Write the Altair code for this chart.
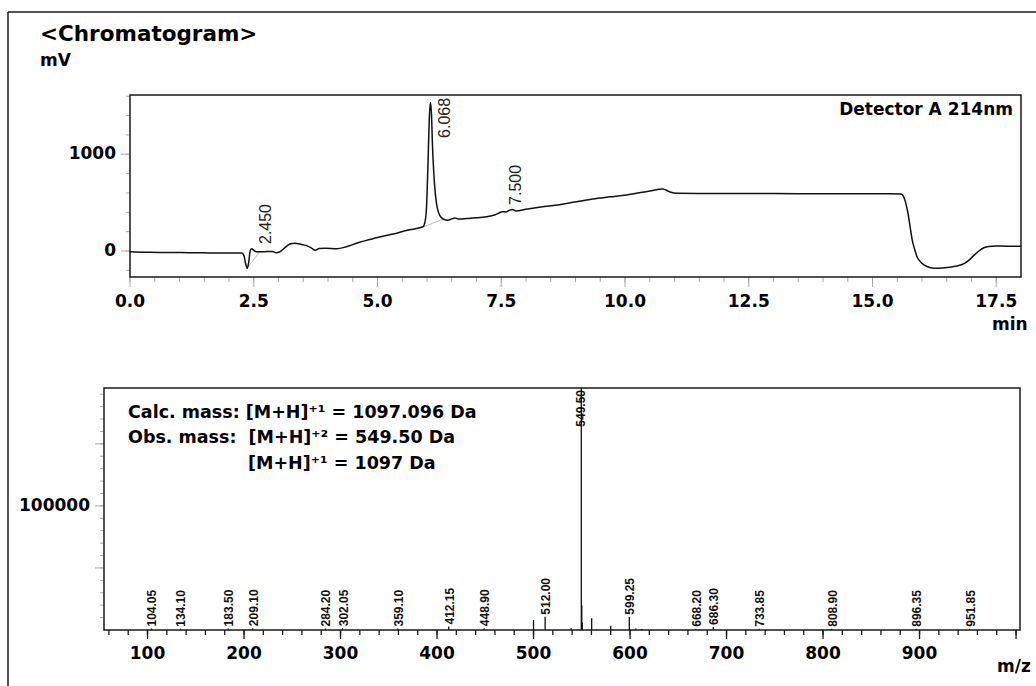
import altair as alt
import pandas as pd

# ---------------- data ----------------
time_min = [0.00, 0.40, 0.80, 1.20, 1.60, 2.00, 2.26, 2.30, 2.34, 2.37, 2.40, 2.43, 2.46, 2.50,
            2.55, 2.70, 2.88, 2.95, 3.03, 3.12, 3.23, 3.33, 3.45, 3.57, 3.66, 3.74, 3.82, 3.95,
            4.18, 4.64, 5.00, 5.31, 5.60, 5.92, 5.96, 5.99, 6.02, 6.045, 6.068, 6.09, 6.11, 6.14,
            6.17, 6.21, 6.26, 6.33, 6.42, 6.50, 6.56, 6.65, 6.80, 7.00, 7.20, 7.36, 7.45, 7.52,
            7.60, 7.67, 7.72, 7.80, 8.00, 8.30, 8.68, 9.00, 9.35, 9.70, 10.03, 10.50, 10.76,
            10.90, 11.04, 11.50, 12.50, 13.50, 14.50, 15.35, 15.58, 15.63, 15.67, 15.72, 15.76,
            15.80, 15.85, 15.90, 16.00, 16.10, 16.25, 16.40, 16.55, 16.70, 16.85, 16.95, 17.05,
            17.15, 17.25, 17.35, 17.50, 17.70, 18.00]
signal_mv = [-8, -14, -15, -18, -20, -22, -22, -45, -140, -180, -110, 5, 22, 8,
             -8, -7, -5, -18, -8, 30, 72, 79, 70, 55, 32, 7, 25, 28,
             24, 90, 140, 175, 215, 250, 300, 450, 900, 1350, 1535, 1420, 1100, 780,
             580, 440, 365, 330, 318, 332, 340, 330, 335, 343, 355, 372, 392, 407,
             404, 422, 430, 413, 432, 455, 478, 508, 538, 560, 580, 620, 641,
             612, 596, 594, 594, 593, 593, 593, 590, 560, 500, 380, 250,
             120, 20, -60, -128, -160, -178, -176, -168, -155, -130, -95, -45,
             0, 33, 47, 52, 50, 48]

peak_rt = [2.450, 6.068, 7.500]
peak_text = ["2.450", "6.068", "7.500"]
peak_label_mv = [72, 1169, 476]

base_seg = [0, 0, 1, 1]
base_t = [2.36, 2.62, 5.93, 6.36]
base_mv = [-180, -8, 250, 335]

ms_mz = [104.05, 134.10, 183.50, 209.10, 284.20, 302.05, 359.10, 412.15, 448.90, 500.0,
         512.00, 539.0, 549.50, 550.0, 550.5, 560.25, 580.0, 599.25, 606.0, 612.0,
         668.20, 686.30, 733.85, 808.90, 896.35, 951.85]
ms_int = [1200, 1000, 1300, 1500, 1200, 1400, 1200, 2800, 1500, 8000,
          10700, 1500, 195000, 20000, 6000, 9400, 3500, 10700, 1200, 800,
          1000, 2500, 1000, 1000, 1000, 1000]
ms_label = ["104.05", "134.10", "183.50", "209.10", "284.20", "302.05", "359.10", "412.15",
            "448.90", "", "512.00", "", "549.50", "", "", "", "", "599.25", "", "",
            "668.20", "686.30", "733.85", "808.90", "896.35", "951.85"]

# tick positions; labelled ones listed separately
chrom_x_ticks = [i / 2 for i in range(0, 36)]
chrom_x_labels = [0.0, 2.5, 5.0, 7.5, 10.0, 12.5, 15.0, 17.5]
chrom_y_ticks = list(range(-200, 1601, 200))
chrom_y_labels = [0, 1000]
ms_x_ticks = list(range(60, 1001, 20))
ms_x_major = list(range(100, 1001, 100))
ms_x_labels = list(range(100, 901, 100))
ms_y_ticks = list(range(10000, 190001, 10000))
ms_y_major = [50000, 100000, 150000]
ms_y_labels = [100000]

# ---------------- layout ----------------
W, H = 1036, 686
CX0, CX1, CY0, CY1 = 130, 1021, 95, 277      # chromatogram plot box
MX0, MX1, MY0, MY1 = 104, 1020, 388, 630     # mass-spectrum plot box
BOLD = "DejaVu Sans"
INK = "#1a1a1a"
TICK_GREY = "#a8a8a8"
TICK_FS = 17

chrom_df = pd.DataFrame({"t": time_min, "mv": signal_mv})
peak_df = pd.DataFrame({"t": peak_rt, "mv": peak_label_mv, "label": peak_text})
base_df = pd.DataFrame({"seg": base_seg, "t": base_t, "mv": base_mv})
ms_df = pd.DataFrame({"mz": ms_mz, "inten": ms_int, "label": ms_label})
ms_df["base"] = 0

cx_scale = alt.Scale(domain=[0, 18], range=[CX0, CX1], nice=False, zero=False)
cy_scale = alt.Scale(domain=[-269, 1613], range=[CY1, CY0], nice=False, zero=False)
mx_scale = alt.Scale(domain=[54.9, 1004.1], range=[MX0, MX1], nice=False, zero=False)
my_scale = alt.Scale(domain=[0, 195000], range=[MY1, MY0], nice=False, zero=False)

one = alt.Data(values=[{}])


def txt(s, x, y, size, align="left", weight="bold", font=BOLD):
    return alt.Chart(one).mark_text(align=align, baseline="alphabetic", font=font,
                                    fontSize=size, fontWeight=weight, color="black").encode(
        x=alt.value(x), y=alt.value(y), text=alt.value(s))


def xticks(values, scale, y0, length, color, width):
    return alt.Chart(pd.DataFrame({"v": values})).mark_rule(color=color, strokeWidth=width).encode(
        x=alt.X("v:Q", scale=scale, axis=None), y=alt.value(y0), y2=alt.value(y0 + length))


def yticks(values, scale, x0, length, color, width):
    return alt.Chart(pd.DataFrame({"v": values})).mark_rule(color=color, strokeWidth=width).encode(
        y=alt.Y("v:Q", scale=scale, axis=None), x=alt.value(x0 - length), x2=alt.value(x0))


def xlabels(values, scale, y, fmt):
    return alt.Chart(pd.DataFrame({"v": values})).transform_calculate(
        lab=f"format(datum.v, '{fmt}')").mark_text(
        align="center", baseline="alphabetic", font=BOLD, fontWeight="bold", fontSize=TICK_FS,
        color="black").encode(x=alt.X("v:Q", scale=scale, axis=None), y=alt.value(y),
                              text="lab:N")


def ylabels(values, scale, x, fmt):
    return alt.Chart(pd.DataFrame({"v": values})).transform_calculate(
        lab=f"format(datum.v, '{fmt}')").mark_text(
        align="right", baseline="middle", font=BOLD, fontWeight="bold", fontSize=TICK_FS,
        color="black").encode(y=alt.Y("v:Q", scale=scale, axis=None), x=alt.value(x),
                              text="lab:N")


# ---------------- chromatogram ----------------
chrom_frame = alt.Chart(one).mark_rect(fillOpacity=0, stroke=INK, strokeWidth=1.5).encode(
    x=alt.value(CX0), x2=alt.value(CX1), y=alt.value(CY0), y2=alt.value(CY1))
chrom_line = alt.Chart(chrom_df).mark_line(color="#111111", strokeWidth=1.5,
                                           interpolate="monotone").encode(
    x=alt.X("t:Q", scale=cx_scale, axis=None),
    y=alt.Y("mv:Q", scale=cy_scale, axis=None))
chrom_base = alt.Chart(base_df).mark_line(color="#bbbbbb", strokeWidth=1).encode(
    x=alt.X("t:Q", scale=cx_scale, axis=None),
    y=alt.Y("mv:Q", scale=cy_scale, axis=None),
    detail="seg:N")
chrom_labels = alt.Chart(peak_df).mark_text(angle=270, align="left", baseline="middle", dy=15,
                                            font="Liberation Sans", fontSize=16,
                                            color="#222222").encode(
    x=alt.X("t:Q", scale=cx_scale, axis=None),
    y=alt.Y("mv:Q", scale=cy_scale, axis=None),
    text="label:N")
chrom = alt.layer(
    xticks(chrom_x_ticks, cx_scale, CY1, 5, TICK_GREY, 1),
    xticks(chrom_x_labels, cx_scale, CY1, 10, TICK_GREY, 1),
    xlabels(chrom_x_labels, cx_scale, 307, ".1f"),
    yticks(chrom_y_ticks, cy_scale, CX0, 4, TICK_GREY, 1),
    yticks(chrom_y_labels, cy_scale, CX0, 9, TICK_GREY, 1),
    ylabels(chrom_y_labels, cy_scale, CX0 - 14, "d"),
    chrom_base, chrom_line, chrom_labels, chrom_frame)

# ---------------- mass spectrum ----------------
ms_frame = alt.Chart(one).mark_rect(fillOpacity=0, stroke=INK, strokeWidth=1.5).encode(
    x=alt.value(MX0), x2=alt.value(MX1), y=alt.value(MY0), y2=alt.value(MY1))
ms_rules = alt.Chart(ms_df).mark_rule(color="#111111", strokeWidth=1.3).encode(
    x=alt.X("mz:Q", scale=mx_scale, axis=None),
    y=alt.Y("inten:Q", scale=my_scale, axis=None),
    y2="base:Q")
ms_labels = alt.Chart(ms_df).transform_filter(
    "datum.label != '' && datum.inten < 195000").mark_text(
    angle=270, align="left", baseline="middle", dx=2, dy=1, font="Liberation Sans",
    fontSize=12, fontWeight="bold", color="#111111").encode(
    x=alt.X("mz:Q", scale=mx_scale, axis=None),
    y=alt.Y("inten:Q", scale=my_scale, axis=None),
    text="label:N")
ms_top_label = alt.Chart(ms_df).transform_filter(
    "datum.label != '' && datum.inten >= 195000").mark_text(
    angle=270, align="right", baseline="middle", dx=-2, dy=0, font="Liberation Sans",
    fontSize=12, fontWeight="bold", color="#111111").encode(
    x=alt.X("mz:Q", scale=mx_scale, axis=None),
    y=alt.Y("inten:Q", scale=my_scale, axis=None),
    text="label:N")
ms = alt.layer(
    xticks(ms_x_ticks, mx_scale, MY1, 5, INK, 1.3),
    xticks(ms_x_major, mx_scale, MY1, 9, INK, 1.3),
    xlabels(ms_x_labels, mx_scale, 659, "d"),
    yticks(ms_y_ticks, my_scale, MX0, 4, TICK_GREY, 1),
    yticks(ms_y_major, my_scale, MX0, 9, TICK_GREY, 1),
    ylabels(ms_y_labels, my_scale, MX0 - 14, "d"),
    ms_rules, ms_labels, ms_top_label, ms_frame)

# ---------------- decorations / annotations ----------------
outer_left = alt.Chart(one).mark_rule(color=INK, strokeWidth=1.5).encode(
    x=alt.value(8), y=alt.value(12), y2=alt.value(H))
outer_top = alt.Chart(one).mark_rule(color=INK, strokeWidth=1.5).encode(
    x=alt.value(8), x2=alt.value(W), y=alt.value(12))

texts = [
    txt("<Chromatogram>", 40, 41, 21.5),
    txt("mV", 40, 66, 17),
    txt("Detector A 214nm", 1013, 115, 17, align="right"),
    txt("min", 992, 330, 17),
    txt("m/z", 997, 672, 17),
    txt("Calc. mass: [M+H]\u207a\u00b9 = 1097.096 Da", 128, 418, 17.5),
    txt("Obs. mass: \u00a0[M+H]\u207a\u00b2 = 549.50 Da", 128, 443, 17.5),
    txt("[M+H]\u207a\u00b9 = 1097 Da", 248, 469, 17.5),
]

chart = alt.layer(outer_left, outer_top, chrom, ms, *texts).resolve_scale(
    x="independent", y="independent").properties(
    width=W, height=H, padding=0,
    autosize=alt.AutoSizeParams(type="none")).configure_view(stroke="transparent")

chart.save("out.html", embed_options={"renderer": "svg", "actions": False})
